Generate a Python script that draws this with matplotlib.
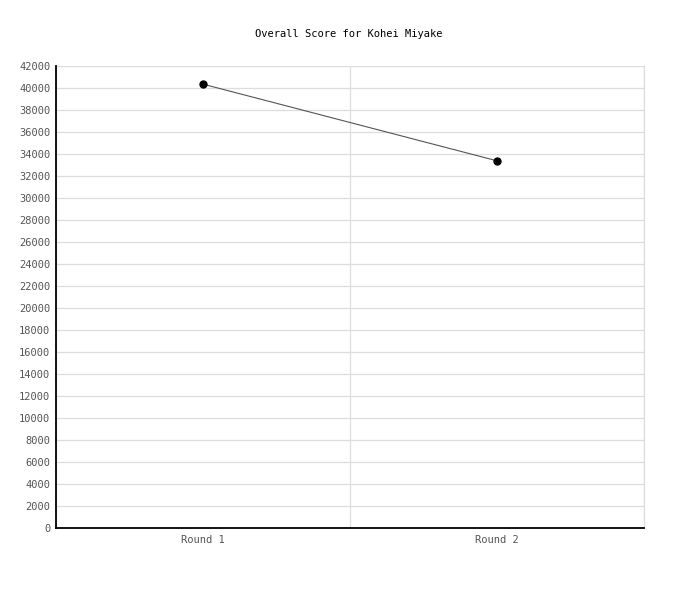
import matplotlib
matplotlib.use("Agg")
import matplotlib.pyplot as plt
import numpy as np

# ========= DATA =========
rounds = ["Round 1", "Round 2"]
scores = [40350, 33380]
y_ticks = list(range(0, 42001, 2000))

plt.rcParams['font.family'] = ['DejaVu Sans Mono']

fig = plt.figure(figsize=(7, 6), dpi=100)
ax = fig.add_axes([56/700, 1 - 528/600, 588/700, 462/600])

x = np.arange(len(rounds))
ax.plot(x, scores, color="#555555", lw=0.8, marker="o", ms=5,
        mfc="black", mec="black", zorder=3)

ax.set_xlim(-0.5, len(rounds) - 0.5)
ax.set_ylim(0, 42000)
ax.set_yticks(y_ticks)
ax.set_yticklabels([str(v) for v in y_ticks])
ax.set_xticks(x)
ax.set_xticklabels(rounds)
ax.set_xticks(np.arange(-0.5, len(rounds), 1.0), minor=True)

ax.grid(True, axis="y", which="major", color="#dddddd", lw=0.9)
ax.grid(True, axis="x", which="minor", color="#dddddd", lw=0.9)
ax.set_axisbelow(True)

# right edge grid line (gets clipped otherwise)
ax.axvline(len(rounds) - 0.5, color="#dddddd", lw=0.9, clip_on=False, zorder=0)

for s in ["top", "right"]:
    ax.spines[s].set_visible(False)
ax.spines["left"].set_linewidth(1.3)
ax.spines["bottom"].set_linewidth(1.3)

ax.tick_params(axis="both", which="both", length=0, labelsize=7.5, labelcolor="#555555")
ax.tick_params(axis="y", pad=4)
ax.tick_params(axis="x", pad=5)

fig.text(349/700, 1 - 34/600, "Overall Score for Kohei Miyake",
         ha="center", va="center", fontsize=7.5, color="black")

fig.savefig("out.png", dpi=100)
